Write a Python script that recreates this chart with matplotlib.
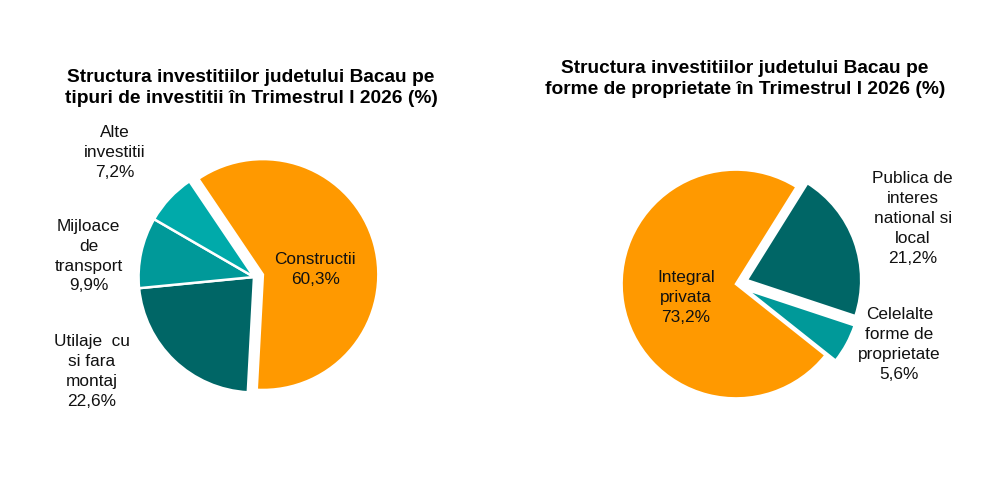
import numpy as np
import matplotlib
matplotlib.use('Agg')
import matplotlib.pyplot as plt

plt.rcParams['font.family'] = ['Liberation Sans', 'DejaVu Sans']

###### Data
tip_labels = ['Constructii', 'Utilaje  cu\nsi fara\nmontaj', 'Mijloace\nde\ntransport', 'Alte\ninvestitii']
tip_values = [60.3, 22.6, 9.9, 7.2]
tip_colors = ['#FF9900', '#006666', '#009999', '#00AAAA']
tip_explode = [0.08, 0, 0, 0]

prop_labels = ['Publica de\ninteres\nnational si\nlocal', 'Celelalte\nforme de\nproprietate', 'Integral\nprivata']
prop_values = [21.2, 5.6, 73.2]
prop_colors = ['#006666', '#009999', '#FF9900']
prop_explode = [0.1, 0.1, 0]

title_left = 'Structura investitiilor judetului Bacau pe\ntipuri de investitii în Trimestrul I 2026 (%)'
title_right = 'Structura investitiilor judetului Bacau pe\nforme de proprietate în Trimestrul I 2026 (%)'

W, H = 987, 498

def fmt(v):
	return ('%.1f' % v).replace('.', ',') + '%'

def pieAxes(fig, cx, cy, r):
	# square axes, 1 data unit = r pixels, centre at (cx, cy) in image pixels
	half = 1.3 * r
	ax = fig.add_axes([(cx - half) / W, (H - cy - half) / H, 2 * half / W, 2 * half / H])
	ax.set_xlim(-1.3, 1.3)
	ax.set_ylim(-1.3, 1.3)
	ax.set_aspect('equal')
	ax.axis('off')
	return ax

def putLabels(ax, labels, values, positions, cx, cy, r):
	for lab, v, (px, py) in zip(labels, values, positions):
		ax.text((px - cx) / r, (cy - py) / r, lab + '\n' + fmt(v), ha='center', va='center',
		        multialignment='center', fontsize=12.4, linespacing=1.4, color='#111111')

fig = plt.figure(figsize=(W / 100, H / 100), dpi=100)

# left pie
cxL, cyL, rL = 254, 277, 111
axL = pieAxes(fig, cxL, cyL, rL)
axL.pie(tip_values, colors=tip_colors, explode=tip_explode, startangle=124, counterclock=False,
        wedgeprops={'edgecolor': 'white', 'linewidth': 1.8})
putLabels(axL, tip_labels, tip_values, [(313, 270), (98, 368), (95, 257), (120, 157)], cxL, cyL, rL)

# right pie
cxR, cyR, rR = 736, 284, 110
axR = pieAxes(fig, cxR, cyR, rR)
axR.pie(prop_values, colors=prop_colors, explode=prop_explode, startangle=58, counterclock=False,
        wedgeprops={'edgecolor': 'white', 'linewidth': 1.8})
putLabels(axR, prop_labels, prop_values, [(906, 221), (893, 342), (688, 297)], cxR, cyR, rR)

fig.text(251 / W, 1 - 88 / H, title_left, ha='center', va='center', fontsize=13.8,
         fontweight='bold', linespacing=1.3)
fig.text(745 / W, 1 - 79 / H, title_right, ha='center', va='center', fontsize=13.8,
         fontweight='bold', linespacing=1.3)

fig.savefig('out.png', dpi=100)
